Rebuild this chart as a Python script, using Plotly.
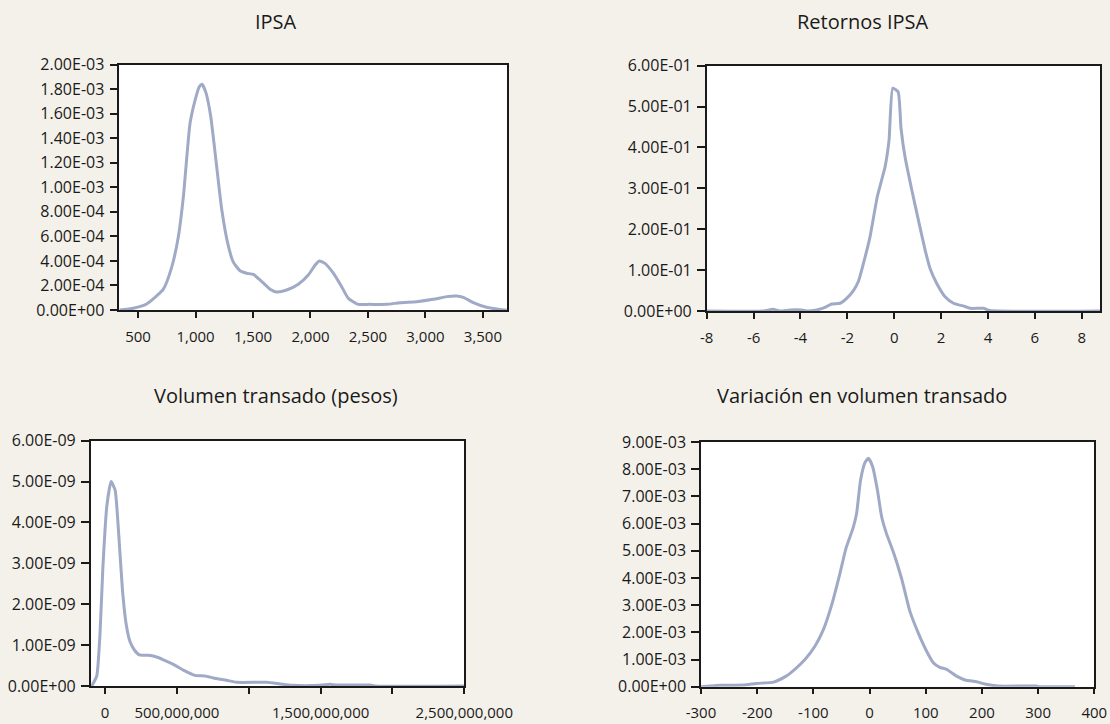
import plotly.graph_objects as go

# ---------------- data ----------------
ipsa_x = [338, 459, 575, 720, 793, 851, 894, 952, 996, 1033, 1057, 1091, 1132, 1178, 1228, 1286,
          1329, 1387, 1445, 1503, 1561, 1648, 1706, 1793, 1894, 1981, 2039, 2077, 2126, 2199, 2271,
          2329, 2416, 2517, 2662, 2778, 2923, 3068, 3184, 3271, 3329, 3416, 3532, 3648, 3706]
ipsa_y = [0, 1.4e-5, 4.9e-5, 1.7e-4, 3.5e-4, 6.0e-4, 9.2e-4, 1.52e-3, 1.71e-3, 1.82e-3, 1.84e-3,
          1.77e-3, 1.58e-3, 1.22e-3, 8.2e-4, 5.2e-4, 3.9e-4, 3.2e-4, 3.0e-4, 2.9e-4, 2.45e-4,
          1.7e-4, 1.47e-4, 1.63e-4, 2.1e-4, 2.85e-4, 3.65e-4, 4.0e-4, 3.8e-4, 3.0e-4, 1.9e-4,
          9.5e-5, 4.6e-5, 4.6e-5, 4.6e-5, 6.0e-5, 6.8e-5, 8.7e-5, 1.09e-4, 1.14e-4, 1.03e-4,
          6.0e-5, 2.2e-5, 5e-6, 0]

ret_x = [-8, -5.58, -5.18, -4.87, -4.44, -3.95, -3.73, -3.31, -2.95, -2.67, -2.31, -2.03, -1.74,
         -1.53, -1.31, -1.03, -0.72, -0.39, -0.22, -0.06, 0.165, 0.29, 0.46, 0.75, 1.03, 1.32,
         1.53, 1.81, 2.17, 2.53, 3.02, 3.24, 3.81, 4.09, 8.78]
ret_y = [0, 0, 0.004, 0, 0.0025, 0.0025, 0, 0.0025, 0.009, 0.017, 0.019, 0.031, 0.05, 0.072,
         0.117, 0.182, 0.28, 0.353, 0.418, 0.545, 0.536, 0.447, 0.377, 0.296, 0.223, 0.149,
         0.104, 0.068, 0.035, 0.019, 0.011, 0.0065, 0.0065, 0.001, 0]

vol_x = [-93e6, -58e6, -35e6, -16e6, 12e6, 42e6, 70e6, 93e6, 121e6, 146e6, 174e6, 204e6, 239e6,
         301e6, 348e6, 406e6, 475e6, 545e6, 626e6, 696e6, 754e6, 846e6, 916e6, 1125e6, 1218e6,
         1299e6, 1496e6, 1565e6, 1612e6, 1844e6, 1878e6, 2500e6]
vol_y = [0, 0.245e-9, 1.29e-9, 2.84e-9, 4.39e-9, 5.0e-9, 4.79e-9, 3.82e-9, 2.35e-9, 1.53e-9,
         1.08e-9, 0.88e-9, 0.76e-9, 0.75e-9, 0.72e-9, 0.64e-9, 0.53e-9, 0.39e-9, 0.26e-9,
         0.245e-9, 0.196e-9, 0.139e-9, 0.09e-9, 0.09e-9, 0.05e-9, 0.016e-9, 0.016e-9, 0.04e-9,
         0.024e-9, 0.024e-9, 0, 0]

var_x = [-300, -284, -266, -225, -201, -171, -150, -133, -115, -97, -82, -67.5, -53, -42, -29,
         -23, -16, -8, -2, 5.5, 14, 21.5, 30, 42, 57, 72, 87, 100, 113.5, 125, 137, 155, 170,
         190.6, 205, 229, 297, 303, 365.6]
var_y = [0, 0.0245e-3, 0.05e-3, 0.06e-3, 0.12e-3, 0.17e-3, 0.37e-3, 0.64e-3, 1.0e-3, 1.5e-3,
         2.11e-3, 3.0e-3, 4.14e-3, 5.09e-3, 5.86e-3, 6.38e-3, 7.6e-3, 8.25e-3, 8.4e-3, 8.09e-3,
         7.23e-3, 6.25e-3, 5.64e-3, 4.97e-3, 3.98e-3, 2.76e-3, 1.96e-3, 1.37e-3, 0.88e-3,
         0.71e-3, 0.64e-3, 0.39e-3, 0.245e-3, 0.184e-3, 0.098e-3, 0.0245e-3, 0.0245e-3, 0, 0]

titles = ["IPSA", "Retornos IPSA", "Volumen transado (pesos)", "Variación en volumen transado"]

ipsa_xticks = [500, 1000, 1500, 2000, 2500, 3000, 3500]
ipsa_xlabels = ["500", "1,000", "1,500", "2,000", "2,500", "3,000", "3,500"]
ret_xticks = [-8, -6, -4, -2, 0, 2, 4, 6, 8]
ret_xlabels = ["-8", "-6", "-4", "-2", "0", "2", "4", "6", "8"]
vol_xticks = [0, 500e6, 1000e6, 1500e6, 2000e6, 2500e6]
vol_xlabels = ["0", "500,000,000", "", "1,500,000,000", "", "2,500,000,000"]
var_xticks = [-300, -200, -100, 0, 100, 200, 300, 400]
var_xlabels = ["-300", "-200", "-100", "0", "100", "200", "300", "400"]

ipsa_yticks = [i * 2e-4 for i in range(11)]
ret_yticks = [i * 0.1 for i in range(7)]
vol_yticks = [i * 1e-9 for i in range(7)]
var_yticks = [i * 1e-3 for i in range(10)]

# ---------------- styling ----------------
W, H = 1110, 724
BG = "#f4f1ea"
LINE = "#a0aac6"
TXT = "#1a1a1a"
FONT = "Open Sans"

def fx(px):
    return px / W

def fy(py):
    return 1 - py / H

fig = go.Figure()

panels = [
    dict(x=ipsa_x, y=ipsa_y, xd=(119.3, 507.3), yd=(64.7, 310), xr=[337, 3712], yr=[0, 2e-3],
         xt=ipsa_xticks, xl=ipsa_xlabels, yt=ipsa_yticks, title_pos=(276, 21)),
    dict(x=ret_x, y=ret_y, xd=(706.7, 1100), yd=(65.7, 311), xr=[-8, 8.78], yr=[0, 0.6],
         xt=ret_xticks, xl=ret_xlabels, yt=ret_yticks, title_pos=(863, 21)),
    dict(x=vol_x, y=vol_y, xd=(90.7, 464.3), yd=(440.7, 686), xr=[-100e6, 2500e6], yr=[0, 6e-9],
         xt=vol_xticks, xl=vol_xlabels, yt=vol_yticks, title_pos=(276, 395)),
    dict(x=var_x, y=var_y, xd=(701, 1094.3), yd=(442, 686.7), xr=[-300, 400], yr=[0, 9e-3],
         xt=var_xticks, xl=var_xlabels, yt=var_yticks, title_pos=(862, 395)),
]

layout = dict(
    width=W, height=H, template="none",
    paper_bgcolor=BG, plot_bgcolor="white",
    margin=dict(l=0, r=0, t=0, b=0),
    showlegend=False,
    font=dict(family=FONT, size=15, color=TXT),
    annotations=[],
)

for i, p in enumerate(panels, start=1):
    xa = "x" if i == 1 else f"x{i}"
    ya = "y" if i == 1 else f"y{i}"
    fig.add_trace(go.Scatter(x=p["x"], y=p["y"], mode="lines", xaxis=xa, yaxis=ya,
                             line=dict(color=LINE, width=3, shape="spline", smoothing=0.5),
                             hoverinfo="skip"))
    axis_common = dict(showgrid=False, zeroline=False, showline=True, mirror=True,
                       linecolor="#1a1a1a", linewidth=1.5, ticks="outside",
                       tickcolor="#1a1a1a", tickwidth=1.5, automargin=False)
    layout["xaxis" if i == 1 else f"xaxis{i}"] = dict(
        axis_common, domain=[fx(p["xd"][0]), fx(p["xd"][1])], range=p["xr"],
        anchor=ya, tickmode="array", tickvals=p["xt"], ticktext=p["xl"], ticklen=6,
        ticklabelstandoff=6, tickfont=dict(family=FONT, size=15, color=TXT))
    layout["yaxis" if i == 1 else f"yaxis{i}"] = dict(
        axis_common, domain=[fy(p["yd"][1]), fy(p["yd"][0])], range=p["yr"],
        anchor=xa, tickmode="array", tickvals=p["yt"],
        ticktext=[f"{v:.2E}" for v in p["yt"]], ticklen=8, ticklabelstandoff=2,
        tickfont=dict(family=FONT, size=16, color=TXT))
    layout["annotations"].append(dict(
        text=titles[i - 1], x=fx(p["title_pos"][0]), y=fy(p["title_pos"][1]),
        xref="paper", yref="paper", xanchor="center", yanchor="middle", showarrow=False,
        font=dict(family=FONT, size=20, color=TXT)))

fig.update_layout(**layout)
fig.write_html(
    "out.html",
    config={"displayModeBar": False},
    post_script="document.body.style.margin='0';document.body.style.padding='0';"
                "document.body.style.background='%s';"
                "document.documentElement.style.overflow='hidden';" % BG,
)
